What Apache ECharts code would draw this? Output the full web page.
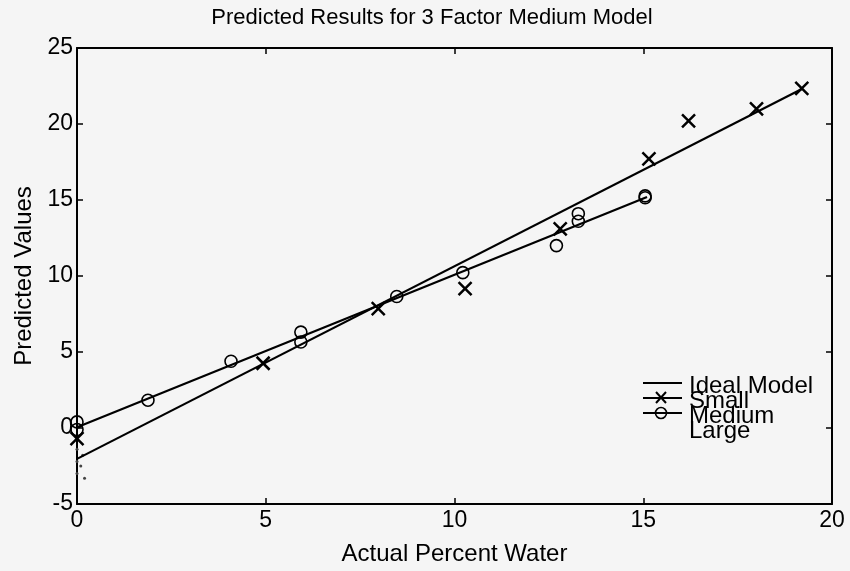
<!DOCTYPE html>
<html>
<head>
<meta charset="utf-8">
<script src="https://cdn.jsdelivr.net/npm/echarts@6/dist/echarts.min.js"></script>
<style>
html, body { margin: 0; padding: 0; background: #f5f5f5; }
#main { width: 850px; height: 571px; }
</style>
</head>
<body>
<div id="main"></div>
<script>
// ticks
var xTicks = [0, 5, 10, 15, 20];
var yTicks = [-5, 0, 5, 10, 15, 20, 25];

// fitted lines (end points)
var idealLine = [[0, -2.03], [19.2, 22.3]];
var mediumLine = [[0, 0.05], [15.1, 15.2]];

// small (x markers)
var smallX = [0, 4.93, 7.98, 10.28, 12.8, 15.15, 16.2, 18.0, 19.2];
var smallY = [-0.7, 4.26, 7.86, 9.17, 13.1, 17.7, 20.2, 21.0, 22.35];

// medium (circles)
var mediumX = [0, 0, 1.88, 4.08, 5.93, 5.93, 8.47, 10.22, 12.7, 13.28, 13.28, 15.05, 15.05];
var mediumY = [0.4, -0.1, 1.83, 4.39, 6.31, 5.66, 8.65, 10.22, 12.0, 14.1, 13.6, 15.27, 15.15];

// large (dots)
var largeX = [0, 0.15, 0, 0.1, 0, 0.2];
var largeY = [-1.4, -1.8, -2.2, -2.5, -3.0, -3.3];

function pairs(xs, ys) {
    return xs.map(function (x, i) { return [x, ys[i]]; });
}

var font = 'Liberation Sans, Arial, sans-serif';
var chart = echarts.init(document.getElementById('main'));

var axisBase = {
    type: 'value',
    axisLine: { show: true, onZero: false, lineStyle: { color: '#000', width: 2 } },
    axisTick: { show: true, inside: true, length: 6, lineStyle: { color: '#000', width: 1.5 } },
    splitLine: { show: false }
};

var legendRows = [
    { label: 'Ideal Model', base: 393 },
    { label: 'Small', base: 408 },
    { label: 'Medium', base: 423 },
    { label: 'Large', base: 438 }
];

var graphics = [
    { type: 'line', shape: { x1: 643, y1: 383, x2: 682, y2: 383 }, style: { stroke: '#000', lineWidth: 2 } },
    { type: 'line', shape: { x1: 643, y1: 398, x2: 682, y2: 398 }, style: { stroke: '#000', lineWidth: 2 } },
    { type: 'line', shape: { x1: 643, y1: 413, x2: 682, y2: 413 }, style: { stroke: '#000', lineWidth: 2 } },
    { type: 'polyline', shape: { points: [[656, 392], [666, 403]] }, style: { stroke: '#000', lineWidth: 2 } },
    { type: 'polyline', shape: { points: [[666, 392], [656, 403]] }, style: { stroke: '#000', lineWidth: 2 } },
    { type: 'circle', shape: { cx: 661, cy: 413, r: 5.5 }, style: { fill: 'none', stroke: '#000', lineWidth: 1.6 } }
];
legendRows.forEach(function (r) {
    graphics.push({
        type: 'text', x: 689, y: r.base + 5,
        style: { text: r.label, font: '24px ' + font, fill: '#000', verticalAlign: 'bottom' }
    });
});

var option = {
    backgroundColor: '#f5f5f5',
    animation: false,
    title: {
        text: 'Predicted Results for 3 Factor Medium Model',
        left: 427, top: 2, textAlign: 'center',
        textStyle: { fontFamily: font, fontWeight: 'normal', fontSize: 22, color: '#000' }
    },
    grid: { left: 77, right: 18, top: 48, bottom: 65 },
    xAxis: [
        Object.assign({}, axisBase, {
            min: 0, max: 20, interval: 5, position: 'bottom',
            name: 'Actual Percent Water', nameLocation: 'middle', nameGap: 38,
            nameTextStyle: { fontFamily: font, fontSize: 24, color: '#000' },
            axisLabel: { fontFamily: font, fontSize: 23, color: '#000', margin: 5 }
        }),
        Object.assign({}, axisBase, {
            min: 0, max: 20, interval: 5, position: 'top',
            axisLabel: { show: false }
        })
    ],
    yAxis: [
        Object.assign({}, axisBase, {
            min: -5, max: 25, interval: 5, position: 'left',
            name: 'Predicted Values', nameLocation: 'middle', nameGap: 41,
            nameTextStyle: { fontFamily: font, fontSize: 24, color: '#000' },
            axisLabel: { fontFamily: font, fontSize: 23, color: '#000', margin: 4 }
        }),
        Object.assign({}, axisBase, {
            min: -5, max: 25, interval: 5, position: 'right',
            axisLabel: { show: false }
        })
    ],
    series: [
        {
            name: 'Ideal Model', type: 'line', data: idealLine,
            symbol: 'none', lineStyle: { color: '#000', width: 2.2 }
        },
        {
            name: 'Medium fit', type: 'line', data: mediumLine,
            symbol: 'none', lineStyle: { color: '#000', width: 2.2 }
        },
        {
            name: 'Small', type: 'scatter', data: pairs(smallX, smallY),
            symbol: 'path://M0,0L10,10M10,0L0,10', symbolSize: 13,
            itemStyle: { color: 'rgba(0,0,0,0)', borderColor: '#000', borderWidth: 2.5, opacity: 1 }
        },
        {
            name: 'Medium', type: 'scatter', data: pairs(mediumX, mediumY),
            symbol: 'circle', symbolSize: 12,
            itemStyle: { color: 'rgba(0,0,0,0)', borderColor: '#000', borderWidth: 1.6, opacity: 1 }
        },
        {
            name: 'Large', type: 'scatter', data: pairs(largeX, largeY),
            symbol: 'circle', symbolSize: 3,
            itemStyle: { color: '#444', opacity: 1 }
        }
    ],
    graphic: graphics
};

chart.setOption(option);
</script>
</body>
</html>
